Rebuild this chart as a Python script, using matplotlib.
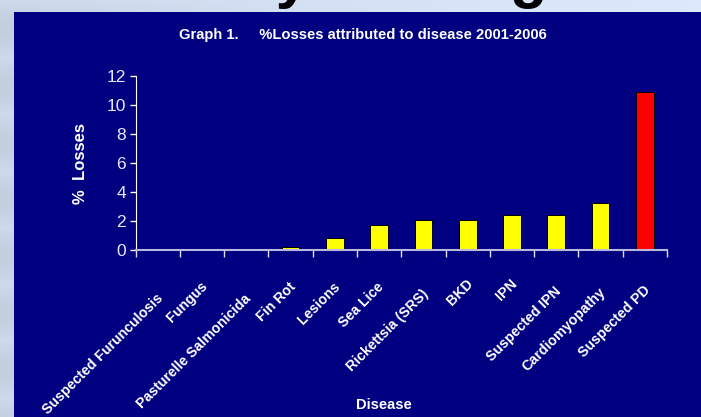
import numpy as np
from matplotlib import pyplot as plt
from matplotlib.patches import Rectangle

diseases = ['Suspected Furunculosis', 'Fungus', 'Pasturelle Salmonicida', 'Fin Rot',
            'Lesions', 'Sea Lice', 'Rickettsia (SRS)', 'BKD', 'IPN', 'Suspected IPN',
            'Cardiomyopathy', 'Suspected PD']
losses = [0.0, 0.0, 0.04, 0.2, 0.85, 1.7, 2.1, 2.1, 2.4, 2.4, 3.25, 10.9]
y_ticks = [0, 2, 4, 6, 8, 10, 12]

navy = '#000080'
label_font = ['Liberation Sans', 'DejaVu Sans']

W, H = 701, 417
fig = plt.figure(figsize=(W / 100, H / 100), dpi=100)

# pale sky backdrop behind the slide panel
bg = fig.add_axes([0, 0, 1, 1], zorder=-3)
gx = np.linspace(0, 1, 300)
gy = np.linspace(0, 1, 200)
gxx, gyy = np.meshgrid(gx, gy)
shade = 0.90 + 0.06 * gxx - 0.05 * np.abs(np.sin(gyy * 23)) * (1 - gxx) ** 3
rgb = np.dstack([shade * 0.90, shade * 0.95, np.clip(shade * 1.03, 0, 1)])
bg.imshow(rgb, aspect='auto', extent=[0, 1, 0, 1])
bg.set_axis_off()

# slide heading, mostly hidden behind the panel
fig.text(318 / W, 1 + 4 / H, 'Mortality Findings', fontsize=44, fontweight='bold',
         color='black', family=label_font, ha='center', va='baseline', zorder=-2)

# navy chart panel
fig.patches.append(Rectangle((14 / W, 0), 1 - 14 / W, (H - 12) / H,
                             transform=fig.transFigure, facecolor=navy,
                             edgecolor='none', zorder=-1))

left, right = 135.5 / W, 667 / W
bottom, top = (H - 250) / H, (H - 76) / H
ax = fig.add_axes([left, bottom, right - left, top - bottom])
ax.set_facecolor('none')

x = np.arange(len(diseases))
colors = ['#ffff00'] * (len(diseases) - 1) + ['#ff0000']
ax.bar(x, losses, width=0.4, color=colors, edgecolor='black', linewidth=0.7)

ax.set_xlim(-0.5, len(diseases) - 0.5)
ax.set_ylim(0, 12)
ax.set_yticks(y_ticks)
ax.set_yticklabels([str(v) for v in y_ticks], fontsize=12.5, color='#e8e8f8', family=label_font)
ax.set_xticks(np.arange(len(diseases) + 1) - 0.5)
ax.set_xticklabels([])
ax.tick_params(axis='y', direction='out', length=4, color='white', width=1, pad=3)
ax.tick_params(axis='x', direction='out', length=5, color='#e0e0f0', width=1)

for side in ['top', 'right']:
    ax.spines[side].set_visible(False)
ax.spines['left'].set_color('white')
ax.spines['bottom'].set_color('#b8b8dc')
ax.spines['bottom'].set_linewidth(1.5)

# rotated category names, longer names pushed a little further down
for i, name in enumerate(diseases):
    drop = 24 + 0.78 * len(name)
    ax.annotate(name, xy=(i, 0), xycoords=('data', 'axes fraction'),
                xytext=(-2, -drop), textcoords='offset pixels',
                rotation=45, rotation_mode='anchor', ha='right', va='top',
                fontsize=10.2, fontweight='bold', color='white', family=label_font)

ax.set_ylabel('%  Losses', fontsize=12, fontweight='bold', color='white',
              family=label_font, labelpad=13)
fig.text(384 / W, 1 - 405 / H, 'Disease', fontsize=10.5, fontweight='bold',
         color='white', family=label_font, ha='center', va='center')
fig.text(363 / W, 1 - 35 / H, 'Graph 1.     %Losses attributed to disease 2001-2006',
         fontsize=10.6, fontweight='bold', color='white',
         family=['Liberation Sans Narrow', 'Liberation Sans', 'DejaVu Sans'],
         ha='center', va='center')

plt.savefig('out.png', dpi=100)
